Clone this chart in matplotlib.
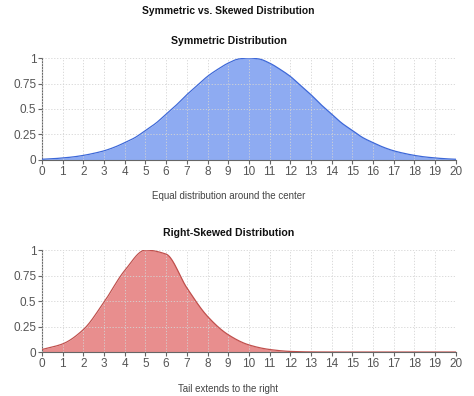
import numpy as np
import matplotlib.pyplot as plt

plt.rcParams['font.family'] = ['Liberation Sans', 'DejaVu Sans']

x_ticks = list(range(21))
x_sym = [i / 2 for i in range(41)]
symmetric = [0.007, 0.012, 0.02, 0.03, 0.045, 0.065, 0.09, 0.125, 0.17, 0.22,
             0.29, 0.36, 0.45, 0.54, 0.64, 0.73, 0.82, 0.89, 0.95, 0.99, 1.0,
             0.99, 0.95, 0.89, 0.82, 0.73, 0.64, 0.54, 0.45, 0.36, 0.29,
             0.22, 0.17, 0.125, 0.09, 0.065, 0.045, 0.03, 0.02, 0.012, 0.007]
x_skew = list(range(21))
skewed = [0.025, 0.08, 0.22, 0.49, 0.80, 1.0, 0.96, 0.63, 0.35, 0.17, 0.07,
          0.025, 0.006, 0.001, 0, 0, 0, 0, 0, 0, 0]
y_ticks = [0, 0.25, 0.5, 0.75, 1]
y_tick_labels = ['0', '0.25', '0.5', '0.75', '1']


def monotone_curve(x, y, n=20):
    # monotone cubic (Fritsch-Carlson) just for drawing the smooth line
    x = np.asarray(x, float)
    y = np.asarray(y, float)
    h = np.diff(x)
    d = np.diff(y) / h
    m = np.zeros_like(y)
    m[0], m[-1] = d[0], d[-1]
    for i in range(1, len(y) - 1):
        if d[i - 1] * d[i] <= 0:
            m[i] = 0
        else:
            w1 = 2 * h[i] + h[i - 1]
            w2 = h[i] + 2 * h[i - 1]
            m[i] = (w1 + w2) / (w1 / d[i - 1] + w2 / d[i])
    xs, ys = [], []
    for i in range(len(x) - 1):
        t = np.linspace(0, 1, n, endpoint=False)
        h00 = 2 * t**3 - 3 * t**2 + 1
        h10 = t**3 - 2 * t**2 + t
        h01 = -2 * t**3 + 3 * t**2
        h11 = t**3 - t**2
        xs.append(x[i] + t * h[i])
        ys.append(h00 * y[i] + h10 * h[i] * m[i] + h01 * y[i + 1] + h11 * h[i] * m[i + 1])
    xs.append([x[-1]])
    ys.append([y[-1]])
    return np.concatenate(xs), np.concatenate(ys)


fig = plt.figure(figsize=(4.74, 3.96), dpi=100)
cx_title = 0.482
fig.text(cx_title, 0.972, 'Symmetric vs. Skewed Distribution', ha='center', va='center',
         fontsize=7.4, fontweight='bold', color='#111111')

panels = [
    ([0.0886, 0.596, 0.873, 0.2575], x_sym, symmetric, 'Symmetric Distribution',
     'Equal distribution around the center', '#8eabf2', '#3d68d8', 0.897, 0.505),
    ([0.0886, 0.111, 0.873, 0.2575], x_skew, skewed, 'Right-Skewed Distribution',
     'Tail extends to the right', '#e88e8e', '#c0504d', 0.412, 0.018),
]

for rect, xv, vals, title, caption, fill, line, ty, cy in panels:
    ax = fig.add_axes(rect)
    cx, cyv = monotone_curve(xv, vals)
    ax.fill_between(cx, 0, cyv, color=fill, zorder=1, linewidth=0)
    ax.plot(cx, cyv, color=line, linewidth=0.9, zorder=3)
    ax.set_xlim(0, 20)
    ax.set_ylim(0, 1)
    ax.set_xticks(x_ticks)
    ax.set_yticks(y_ticks)
    ax.set_yticklabels(y_tick_labels)
    ax.grid(True, linestyle=(0, (1.5, 2)), color='#d4d4d4', linewidth=0.6, zorder=2)
    ax.set_axisbelow(False)
    for s in ['top', 'right']:
        ax.spines[s].set_visible(False)
    for s in ['left', 'bottom']:
        ax.spines[s].set_color('#666666')
        ax.spines[s].set_linewidth(0.8)
    ax.tick_params(colors='#666666', labelsize=8.5, length=3, width=0.8, pad=1)
    ax.tick_params(axis='both', labelcolor='#555555')
    fig.text(cx_title, ty, title, ha='center', va='center', fontsize=7.6, fontweight='bold',
             color='#111111')
    fig.text(cx_title, cy, caption, ha='center', va='center', fontsize=7.0, color='#444444')

fig.savefig('out.png', dpi=100)
